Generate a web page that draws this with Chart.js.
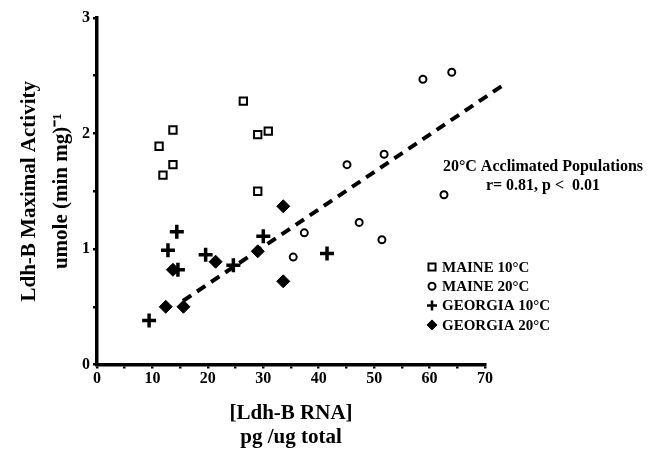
<!DOCTYPE html>
<html>
<head>
<meta charset="utf-8">
<script src="https://cdn.jsdelivr.net/npm/chart.js@4"></script>
<style>
  html, body { margin: 0; padding: 0; background: #fff; }
  #wrap { width: 657px; height: 450px; position: relative; }
</style>
</head>
<body>
<div id="wrap"><canvas id="rnaActivityChart"></canvas></div>
<script>
// values
const maine10X = [11.2, 13.7, 13.7, 11.9, 26.4, 29.0, 30.9, 29.0];
const maine10Y = [1.89, 2.03, 1.73, 1.64, 2.28, 1.99, 2.02, 1.50];

const maine20X = [58.8, 64.0, 45.1, 51.8, 62.6, 37.4, 35.4, 47.3, 51.4];
const maine20Y = [2.47, 2.53, 1.73, 1.82, 1.47, 1.14, 0.93, 1.23, 1.08];

const georgia10X = [9.4, 12.8, 14.4, 14.6, 19.6, 24.6, 30.0, 41.5];
const georgia10Y = [0.38, 0.99, 1.15, 0.82, 0.95, 0.86, 1.11, 0.96];

const georgia20X = [12.4, 15.6, 13.7, 21.4, 29.0, 33.6, 33.6];
const georgia20Y = [0.50, 0.50, 0.82, 0.89, 0.98, 1.37, 0.72];

// regression line, 20C acclimated populations
const fitX = [15.5, 73.0];
const fitY = [0.55, 2.41];

const xTicks = [0, 10, 20, 30, 40, 50, 60, 70];
const yTicks = [0, 1, 2, 3];

const annotationLines = ["20°C Acclimated Populations", "r= 0.81, p <  0.01"];

const serif = "'Liberation Serif', 'Times New Roman', serif";

const toPoints = (xs, ys) => xs.map((x, i) => ({ x: x, y: ys[i] }));

// legend + annotation drawn inside the plot area
const insideText = {
  id: "insideText",
  afterDraw(chart) {
    const ctx = chart.ctx;
    ctx.save();
    ctx.fillStyle = "#000";
    ctx.font = "bold 16px " + serif;
    ctx.textAlign = "center";
    ctx.textBaseline = "middle";
    ctx.fillText(annotationLines[0], 543, 167);
    ctx.fillText(annotationLines[1], 543, 186);

    ctx.font = "bold 15px " + serif;
    ctx.textAlign = "left";
    let rowY = 267;
    chart.data.datasets.forEach((ds) => {
      if (!ds.inLegend) return;
      ctx.fillStyle = ds.backgroundColor;
      ctx.strokeStyle = ds.borderColor;
      ctx.lineWidth = ds.legendBorder;
      Chart.helpers.drawPoint(ctx, {
        pointStyle: ds.pointStyle,
        radius: ds.legendRadius,
        borderWidth: ds.legendBorder,
      }, 432, rowY);
      ctx.fillStyle = "#000";
      ctx.fillText(ds.label, 442, rowY + 1);
      rowY += 19.3;
    });
    ctx.restore();
  },
};

const ctx = document.getElementById("rnaActivityChart");
new Chart(ctx, {
  type: "scatter",
  data: {
    datasets: [
      {
        label: "MAINE 10°C",
        data: toPoints(maine10X, maine10Y),
        pointStyle: "rect",
        pointRadius: 5.2,
        legendRadius: 5,
        legendBorder: 2,
        borderWidth: 2,
        borderColor: "#000",
        backgroundColor: "#fff",
        inLegend: true,
      },
      {
        label: "MAINE 20°C",
        data: toPoints(maine20X, maine20Y),
        pointStyle: "circle",
        pointRadius: 3.5,
        legendRadius: 3.5,
        legendBorder: 2,
        borderWidth: 2,
        borderColor: "#000",
        backgroundColor: "#fff",
        inLegend: true,
      },
      {
        label: "GEORGIA 10°C",
        data: toPoints(georgia10X, georgia10Y),
        pointStyle: "cross",
        pointRadius: 7,
        legendRadius: 5,
        legendBorder: 2.5,
        borderWidth: 3.5,
        borderColor: "#000",
        backgroundColor: "#000",
        inLegend: true,
      },
      {
        label: "GEORGIA 20°C",
        data: toPoints(georgia20X, georgia20Y),
        pointStyle: "rectRot",
        pointRadius: 6.5,
        legendRadius: 5,
        legendBorder: 1,
        borderWidth: 1,
        borderColor: "#000",
        backgroundColor: "#000",
        inLegend: true,
      },
      {
        label: "fit",
        type: "line",
        data: toPoints(fitX, fitY),
        showLine: true,
        pointRadius: 0,
        borderColor: "#000",
        borderWidth: 4,
        borderDash: [10, 7],
        fill: false,
        clip: false,
        inLegend: false,
      },
    ],
  },
  options: {
    responsive: true,
    maintainAspectRatio: false,
    animation: false,
    devicePixelRatio: 1,
    layout: { padding: { top: 18, right: 172, bottom: 0, left: 14 } },
    plugins: {
      legend: { display: false },
      tooltip: { enabled: false },
    },
    scales: {
      x: {
        type: "linear",
        min: 0,
        max: 70,
        afterBuildTicks: (axis) => {
          const t = [];
          for (let v = 0; v <= 70; v += 5) t.push({ value: v });
          axis.ticks = t;
        },
        ticks: {
          color: "#000",
          font: { family: serif, size: 16, weight: "bold" },
          maxRotation: 0,
          padding: 1,
          autoSkip: false,
          callback: (v) => (xTicks.includes(v) ? String(v) : ""),
        },
        grid: { display: true, drawOnChartArea: false, drawTicks: true, tickLength: 4, color: "#000", lineWidth: 2.5 },
        border: { display: true, color: "#000", width: 3.5 },
        title: {
          display: true,
          text: ["[Ldh-B RNA]", "pg /ug total"],
          color: "#000",
          font: { family: serif, size: 21, weight: "bold", lineHeight: 1.15 },
          padding: { top: 12, bottom: 0 },
        },
      },
      y: {
        type: "linear",
        min: 0,
        max: 3,
        afterBuildTicks: (axis) => {
          const t = [];
          for (let v = 0; v <= 3.001; v += 0.5) t.push({ value: v });
          axis.ticks = t;
        },
        ticks: {
          color: "#000",
          font: { family: serif, size: 16, weight: "bold" },
          padding: 3,
          autoSkip: false,
          callback: (v) => (yTicks.includes(v) ? String(v) : ""),
        },
        grid: { display: true, drawOnChartArea: false, drawTicks: true, tickLength: 4, color: "#000", lineWidth: 2.5 },
        border: { display: true, color: "#000", width: 3.5 },
        title: {
          display: true,
          text: ["Ldh-B Maximal Activity", "umole (min mg)\u207B\u00B9"],
          color: "#000",
          font: { family: serif, size: 21, weight: "bold", lineHeight: 1.5 },
          padding: { top: 0, bottom: 2 },
        },
      },
    },
  },
  plugins: [insideText],
});
</script>
</body>
</html>
